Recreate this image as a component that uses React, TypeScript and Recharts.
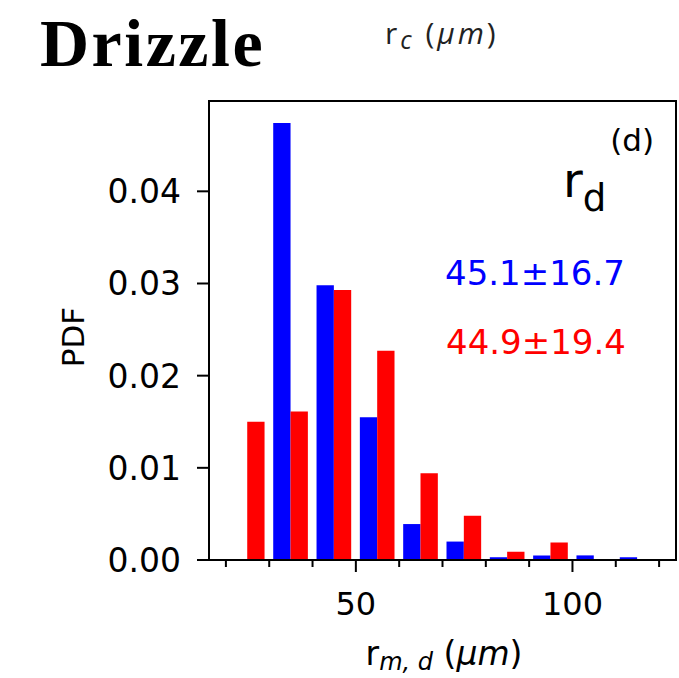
import { Bar, BarChart, ReferenceArea, XAxis, YAxis } from "recharts";

// Histogram bins of r_m,d (um), bin width 10
const binCenters = [25, 35, 45, 55, 65, 75, 85, 95, 105, 115];
const pdfBlue = [0, 0.0474, 0.0298, 0.0155, 0.0039, 0.002, 0.0003, 0.0005, 0.0005, 0.0003];
const pdfRed = [0.015, 0.0161, 0.0293, 0.0227, 0.0094, 0.0048, 0.0009, 0.0019, 0, 0];

const xTicks = [20, 30, 40, 50, 60, 70, 80, 90, 100, 110, 120];
const xTickLabels = [50, 100];
const yTicks = [0, 0.01, 0.02, 0.03, 0.04];

const statBlue = "45.1±16.7";
const statRed = "44.9±19.4";

const W = 679;
const H = 678;
const PLOT = { left: 209, top: 101, right: 676, bottom: 560 };
const X_DOMAIN: [number, number] = [16.1, 123.9];
const Y_DOMAIN: [number, number] = [0, 0.0498];
const BIN_WIDTH = 10;

const BLUE = "#0000ff";
const RED = "#ff0000";
const FONT = "'DejaVu Sans', sans-serif";

// two bars share 80% of each bin, like matplotlib's side-by-side hist
const pxPerUnit = (PLOT.right - PLOT.left) / (X_DOMAIN[1] - X_DOMAIN[0]);
const barPx = pxPerUnit * BIN_WIDTH * 0.4;

const data = binCenters.map((bin, i) => ({
  bin,
  blue: pdfBlue[i],
  red: pdfRed[i],
}));

const XTick = ({ x, y, payload }: any) => {
  const major = xTickLabels.includes(payload.value);
  return (
    <g>
      <line x1={x} x2={x} y1={y} y2={y + (major ? 12 : 7)} stroke="#000" strokeWidth={2} />
      {major && (
        <text x={x} y={y + 55} textAnchor="middle" fontSize={32} fontFamily={FONT} fill="#000">
          {payload.value}
        </text>
      )}
    </g>
  );
};

const YTick = ({ x, y, payload }: any) => (
  <g>
    <line x1={x - 12} x2={x} y1={y} y2={y} stroke="#000" strokeWidth={2} />
    <text x={x - 28} y={y} dy="0.36em" textAnchor="end" fontSize={33} fontFamily={FONT} fill="#000">
      {Number(payload.value).toFixed(2)}
    </text>
  </g>
);

export default function App() {
  return (
    <div style={{ position: "absolute", left: 0, top: 0, width: W, height: H, background: "#fff" }}>
      <BarChart
        width={W}
        height={H}
        data={data}
        barGap={0}
        margin={{ top: PLOT.top, left: PLOT.left - 100, right: W - PLOT.right, bottom: H - PLOT.bottom - 60 }}
      >
        <XAxis
          dataKey="bin"
          type="number"
          domain={X_DOMAIN}
          allowDataOverflow
          ticks={xTicks}
          interval={0}
          height={60}
          tickSize={0}
          tickMargin={0}
          tickLine={false}
          tick={<XTick />}
          axisLine={{ stroke: "#000", strokeWidth: 2 }}
        />
        <YAxis
          type="number"
          domain={Y_DOMAIN}
          allowDataOverflow
          ticks={yTicks}
          interval={0}
          width={100}
          tickSize={0}
          tickMargin={0}
          tickLine={false}
          tick={<YTick />}
          axisLine={{ stroke: "#000", strokeWidth: 2 }}
        />
        <Bar dataKey="blue" fill={BLUE} barSize={barPx} isAnimationActive={false} />
        <Bar dataKey="red" fill={RED} barSize={barPx} isAnimationActive={false} />
        {/* axes box */}
        <ReferenceArea
          x1={X_DOMAIN[0]}
          x2={X_DOMAIN[1]}
          y1={Y_DOMAIN[0]}
          y2={Y_DOMAIN[1]}
          fill="none"
          stroke="#000"
          strokeWidth={2}
          ifOverflow="visible"
        />
      </BarChart>

      <svg
        width={W}
        height={H}
        style={{ position: "absolute", left: 0, top: 0, pointerEvents: "none" }}
      >
        <text x={40} y={66} fontFamily="'Liberation Serif', serif" fontWeight="bold" fontSize={68} letterSpacing={2.5} fill="#000">
          Drizzle
        </text>
        <text x={385} y={44} fontFamily="'Open Sans', sans-serif" fontSize={30} letterSpacing={3} fill="#222">
          r<tspan fontStyle="italic" fontSize={25} dy={5}>c</tspan>
          <tspan dy={-5}> (</tspan>
          <tspan fontStyle="italic">μm</tspan>)
        </text>

        <text x={654} y={151} textAnchor="end" fontFamily={FONT} fontSize={31} fill="#000">
          (d)
        </text>
        <text x={563} y={197} fontFamily={FONT} fontSize={48} fill="#000">
          r<tspan fontSize={37} dy={14}>d</tspan>
        </text>
        <text x={535} y={285} textAnchor="middle" fontFamily={FONT} fontSize={34} fill={BLUE}>
          {statBlue}
        </text>
        <text x={536} y={354} textAnchor="middle" fontFamily={FONT} fontSize={34} fill={RED}>
          {statRed}
        </text>

        <text x={444} y={665} textAnchor="middle" fontFamily={FONT} fontSize={33} fill="#000">
          r<tspan fontStyle="italic" fontSize={24} dy={5}>m, d</tspan>
          <tspan dy={-5}> (</tspan>
          <tspan fontStyle="italic">μm</tspan>)
        </text>
        <text
          x={84}
          y={337}
          transform="rotate(-90 84 337)"
          textAnchor="middle"
          fontFamily={FONT}
          fontSize={31}
          fill="#000"
        >
          PDF
        </text>
      </svg>
    </div>
  );
}
